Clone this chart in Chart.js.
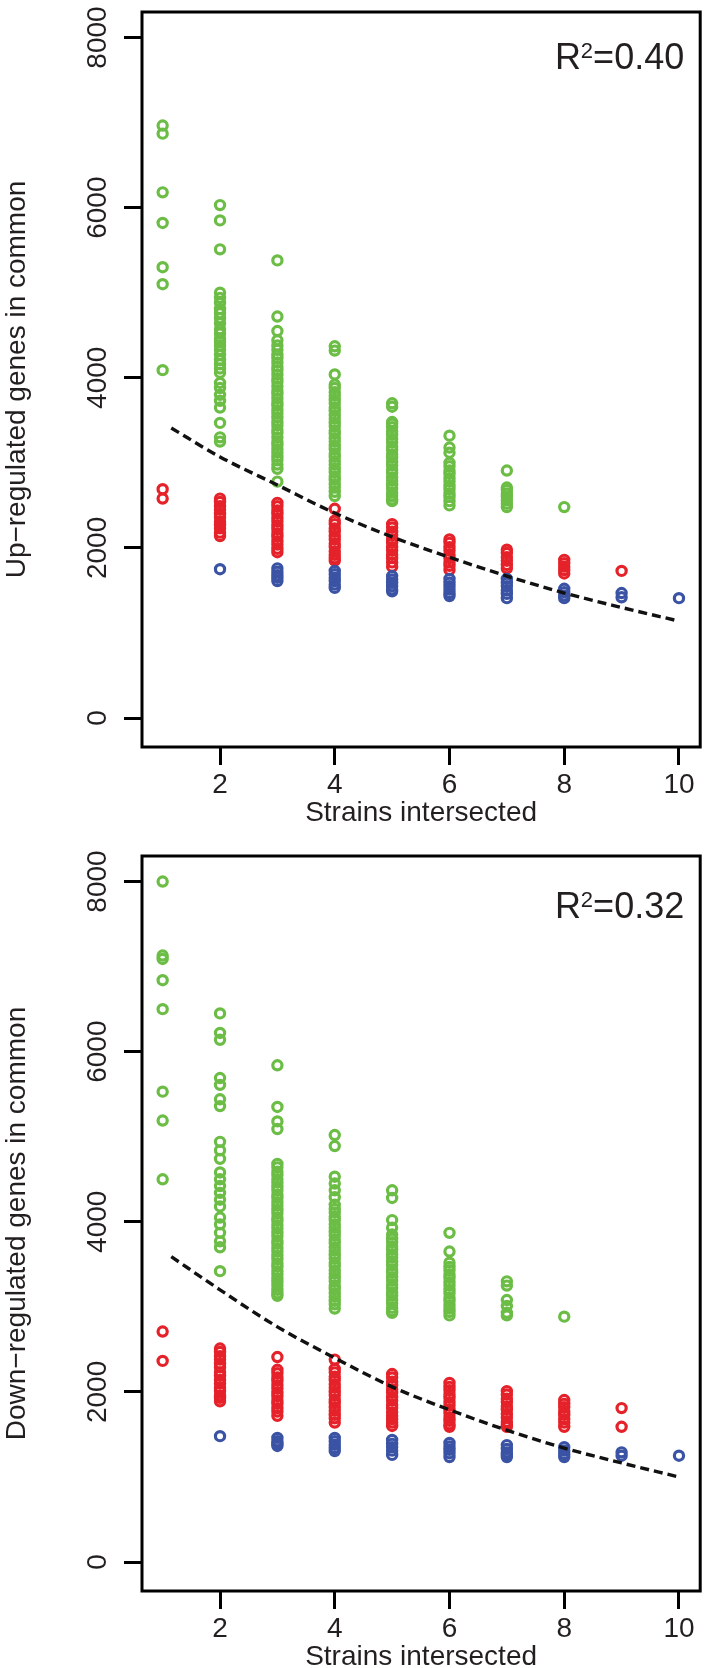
<!DOCTYPE html>
<html>
<head>
<meta charset="UTF-8">
<title>Genes in common vs strains intersected</title>
<script src="https://cdn.jsdelivr.net/npm/chart.js"></script>
<style>
body { margin: 0; background: #fff; }
canvas { position: absolute; left: 0; }
#upChart { top: 0; }
#downChart { top: 844px; }
</style>
</head>
<body>
<canvas id="upChart" width="708" height="824"></canvas>
<canvas id="downChart" width="708" height="824"></canvas>
<script>
// number of strains intersected, one entry per column
const strains = [1, 2, 3, 4, 5, 6, 7, 8, 9, 10];
const xTicks = [2, 4, 6, 8, 10];
const yTicks = [0, 2000, 4000, 6000, 8000];
const fitX = [1.15, 2, 3, 4, 5, 6, 7, 8, 9, 10];

// Up-regulated panel, values read per column (strains 1..10)
const upGreen = [
  [6965, 6870, 6180, 5820, 5300, 5100, 4090],
  [6030, 5850, 5510, 5000, 4940, 4880, 4810, 4760, 4700, 4640, 4570, 4520, 4460, 4420, 4380, 4330, 4270, 4210, 4160, 4110, 4060, 3940, 3880, 3800, 3730, 3650, 3470, 3300, 3250],
  [5380, 4720, 4550, 4440, 4380, 4330, 4270, 4230, 4180, 4130, 4090, 4040, 3990, 3950, 3900, 3850, 3810, 3760, 3710, 3670, 3620, 3580, 3530, 3480, 3440, 3390, 3350, 3300, 3250, 3210, 3160, 3120, 3070, 3030, 2980, 2930, 2780],
  [4370, 4320, 4040, 3920, 3880, 3830, 3790, 3740, 3700, 3650, 3610, 3560, 3520, 3470, 3430, 3380, 3340, 3290, 3250, 3200, 3160, 3110, 3070, 3020, 2980, 2930, 2890, 2840, 2800, 2750, 2710, 2660, 2610],
  [3700, 3660, 3480, 3460, 3420, 3370, 3330, 3280, 3240, 3190, 3150, 3100, 3060, 3010, 2970, 2920, 2880, 2830, 2790, 2740, 2700, 2650, 2610, 2570, 2550],
  [3320, 3180, 3120, 3000, 2960, 2910, 2870, 2820, 2780, 2730, 2690, 2640, 2600, 2550, 2500],
  [2910, 2710, 2680, 2640, 2600, 2560, 2520, 2480],
  [2480],
  [],
  []
];
const upRed = [
  [2690, 2580],
  [2580, 2540, 2490, 2450, 2400, 2360, 2310, 2270, 2230, 2180, 2140],
  [2530, 2490, 2440, 2400, 2350, 2310, 2260, 2220, 2170, 2130, 2080, 2040, 1990, 1950],
  [2460, 2320, 2280, 2230, 2190, 2140, 2100, 2050, 2010, 1960, 1920, 1880, 1850],
  [2280, 2240, 2190, 2150, 2100, 2060, 2010, 1970, 1920, 1880, 1830, 1780],
  [2100, 2060, 2010, 1970, 1920, 1880, 1830, 1790, 1740],
  [1980, 1940, 1890, 1850, 1800, 1760],
  [1860, 1820, 1780, 1740, 1700],
  [1730],
  []
];
const upBlue = [
  [],
  [1750],
  [1760, 1720, 1680, 1650, 1610],
  [1730, 1690, 1650, 1610, 1570, 1530],
  [1670, 1630, 1590, 1550, 1510, 1490],
  [1635, 1590, 1550, 1510, 1470, 1435],
  [1635, 1590, 1550, 1500, 1460, 1410],
  [1520, 1480, 1440, 1410],
  [1470, 1420],
  [1410]
];
const upFit = [3410, 3070, 2740, 2410, 2130, 1890, 1670, 1470, 1300, 1140];

// Down-regulated panel
const downGreen = [
  [8000, 7130, 7090, 6840, 6500, 5530, 5190, 4500],
  [6450, 6220, 6140, 5690, 5610, 5440, 5360, 4940, 4840, 4740, 4580, 4500, 4420, 4340, 4260, 4180, 4050, 3970, 3870, 3770, 3700, 3420],
  [5840, 5350, 5180, 5090, 4680, 4640, 4590, 4550, 4500, 4460, 4410, 4370, 4320, 4280, 4230, 4190, 4140, 4100, 4050, 4010, 3960, 3920, 3870, 3830, 3780, 3740, 3690, 3650, 3600, 3560, 3510, 3470, 3420, 3380, 3330, 3290, 3250, 3200, 3160, 3130],
  [5020, 4890, 4530, 4450, 4370, 4290, 4200, 4150, 4110, 4060, 4020, 3970, 3930, 3880, 3840, 3790, 3750, 3700, 3660, 3610, 3570, 3520, 3480, 3430, 3390, 3340, 3300, 3250, 3210, 3160, 3120, 3070, 3030, 2980],
  [4370, 4280, 4020, 3930, 3850, 3800, 3760, 3710, 3670, 3620, 3580, 3530, 3490, 3440, 3400, 3350, 3310, 3260, 3220, 3170, 3130, 3080, 3040, 2990, 2950, 2930],
  [3870, 3650, 3520, 3470, 3430, 3380, 3340, 3290, 3250, 3200, 3160, 3110, 3070, 3020, 2980, 2940, 2900],
  [3300, 3250, 3080, 3010, 2930, 2900],
  [2885],
  [],
  []
];
const downRed = [
  [2710, 2365],
  [2510, 2470, 2420, 2380, 2330, 2290, 2230, 2190, 2140, 2100, 2050, 2010, 1960, 1930, 1890],
  [2410, 2260, 2220, 2170, 2130, 2080, 2040, 1990, 1950, 1900, 1860, 1810, 1770, 1720],
  [2380, 2270, 2230, 2180, 2140, 2090, 2050, 2000, 1960, 1910, 1870, 1820, 1780, 1730, 1690, 1640],
  [2210, 2170, 2120, 2080, 2030, 1990, 1940, 1900, 1850, 1810, 1760, 1720, 1680, 1640, 1600],
  [2105, 2060, 2020, 1970, 1930, 1880, 1840, 1790, 1750, 1700, 1660, 1620, 1590],
  [2010, 1970, 1920, 1880, 1830, 1790, 1740, 1700, 1650, 1620, 1590],
  [1905, 1860, 1820, 1770, 1730, 1680, 1640, 1590],
  [1810, 1590],
  []
];
const downBlue = [
  [],
  [1480],
  [1460, 1420, 1390, 1365],
  [1460, 1420, 1380, 1340, 1305],
  [1435, 1390, 1350, 1310, 1260],
  [1400, 1360, 1320, 1280, 1235],
  [1375, 1330, 1290, 1260, 1235],
  [1350, 1310, 1270, 1235],
  [1290, 1250],
  [1250]
];
const downFit = [3590, 3200, 2765, 2400, 2060, 1790, 1550, 1340, 1165, 1000];

const GREEN = "#6bbd45";
const RED = "#e52129";
const BLUE = "#3a53a4";
const INK = "#231f20";

Chart.defaults.font.family = '"Liberation Sans", Arial, sans-serif';

function toPoints(cols) {
  return cols.flatMap((vals, i) => vals.map(v => ({ x: strains[i], y: v })));
}

function ring(label, cols, color) {
  return {
    type: "scatter",
    label: label,
    data: toPoints(cols),
    pointStyle: "circle",
    pointRadius: 4.6,
    pointBorderWidth: 3.2,
    pointBackgroundColor: "rgba(0,0,0,0)",
    pointBorderColor: color,
    borderColor: color,
    borderWidth: 3.2,
    showLine: false
  };
}

// box, rotated y labels and R^2 note, R style
const framePlugin = {
  id: "frame",
  afterDraw(chart, args, opts) {
    const ctx = chart.ctx;
    const a = chart.chartArea;
    const ys = chart.scales.y;
    ctx.save();
    ctx.strokeStyle = "#000";
    ctx.lineWidth = 3;
    ctx.strokeRect(a.left, a.top, a.right - a.left, a.bottom - a.top);

    ctx.fillStyle = INK;
    ctx.font = "28px " + Chart.defaults.font.family;
    ctx.textAlign = "center";
    ctx.textBaseline = "middle";
    yTicks.forEach(v => {
      const py = ys.getPixelForValue(v);
      ctx.save();
      ctx.translate(98, py);
      ctx.rotate(-Math.PI / 2);
      ctx.fillText(String(v), 0, 0);
      ctx.restore();
    });

    const right = a.right - 16;
    const base = a.top + opts.r2Base;
    ctx.textAlign = "left";
    ctx.textBaseline = "alphabetic";
    ctx.font = "36px " + Chart.defaults.font.family;
    const tail = "=" + opts.r2;
    const wTail = ctx.measureText(tail).width;
    const wR = ctx.measureText("R").width;
    ctx.font = "22px " + Chart.defaults.font.family;
    const wSup = ctx.measureText("2").width;
    let x = right - wTail - wSup - wR;
    ctx.font = "36px " + Chart.defaults.font.family;
    ctx.fillText("R", x, base);
    ctx.font = "22px " + Chart.defaults.font.family;
    ctx.fillText("2", x + wR, base - 11);
    ctx.font = "36px " + Chart.defaults.font.family;
    ctx.fillText(tail, x + wR + wSup, base);
    ctx.restore();
  }
};

function makeChart(id, yTitle, green, red, blue, fit, r2, r2Base) {
  const fitData = fitX.map((x, i) => ({ x: x, y: fit[i] }));
  new Chart(document.getElementById(id), {
    type: "scatter",
    data: {
      datasets: [
        {
          type: "line",
          label: "fit",
          data: fitData,
          borderColor: "#111",
          borderWidth: 3.4,
          borderDash: [9, 5],
          pointRadius: 0,
          fill: false,
          cubicInterpolationMode: "monotone"
        },
        ring("blue", blue, BLUE),
        ring("red", red, RED),
        ring("green", green, GREEN)
      ]
    },
    options: {
      responsive: false,
      devicePixelRatio: 1,
      animation: false,
      events: [],
      layout: { padding: { top: 12, right: 7, left: 0, bottom: 0 } },
      plugins: {
        legend: { display: false },
        tooltip: { enabled: false },
        frame: { r2: r2, r2Base: r2Base }
      },
      scales: {
        x: {
          type: "linear",
          min: 0.64,
          max: 10.37,
          afterBuildTicks: s => { s.ticks = xTicks.map(v => ({ value: v })); },
          afterFit: s => { s.height = 77; },
          ticks: { color: INK, font: { size: 28 }, padding: 3, maxRotation: 0 },
          grid: { drawOnChartArea: false, drawTicks: true, tickLength: 18, color: "#000", lineWidth: 3 },
          border: { display: false },
          title: {
            display: true,
            text: "Strains intersected",
            color: INK,
            font: { size: 28, lineHeight: 1.0 },
            padding: { top: 0, bottom: -3 }
          }
        },
        y: {
          type: "linear",
          min: -340,
          max: 8300,
          afterBuildTicks: s => { s.ticks = yTicks.map(v => ({ value: v })); },
          afterFit: s => { s.width = 142; },
          ticks: { display: false },
          grid: { drawOnChartArea: false, drawTicks: true, tickLength: 18, color: "#000", lineWidth: 3 },
          border: { display: false },
          title: {
            display: true,
            text: yTitle,
            color: INK,
            font: { size: 28, lineHeight: 1.2 },
            padding: { top: 0, bottom: 0 }
          }
        }
      }
    },
    plugins: [framePlugin]
  });
}

makeChart("upChart", "Up\u2212regulated genes in common", upGreen, upRed, upBlue, upFit, "0.40", 57);
makeChart("downChart", "Down\u2212regulated genes in common", downGreen, downRed, downBlue, downFit, "0.32", 62);
</script>
</body>
</html>
